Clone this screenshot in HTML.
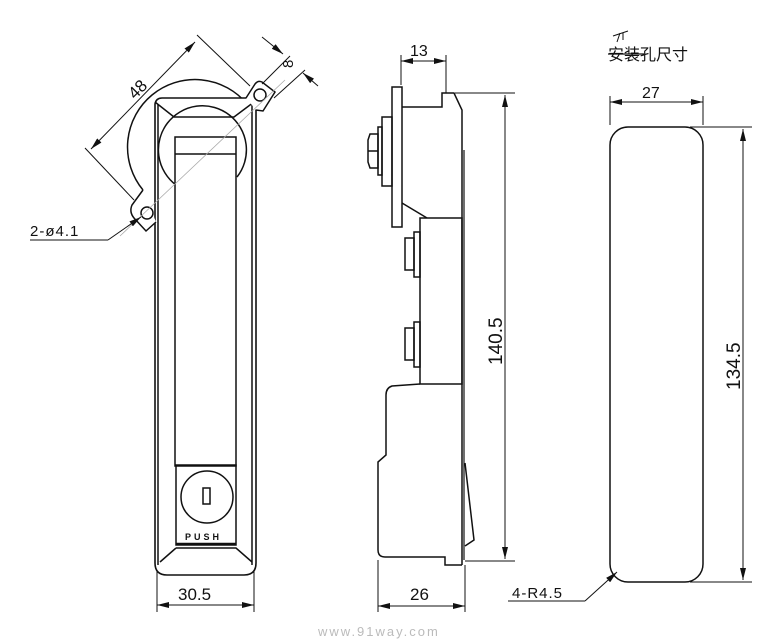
<!DOCTYPE html>
<html><head><meta charset="utf-8"><style>
html,body{margin:0;padding:0;background:#fff;}
svg{display:block;}
text{font-family:"Liberation Sans","Noto Sans CJK SC",sans-serif;fill:#111;}
</style></head><body>
<svg width="776" height="644" viewBox="0 0 776 644" xmlns="http://www.w3.org/2000/svg">
<defs>
<marker id="a" viewBox="0 0 12 6" refX="12" refY="3" markerWidth="12" markerHeight="6" orient="auto-start-reverse"><path d="M0,0 L12,3 L0,6 z" fill="#111"/></marker>
</defs>
<g fill="none" stroke="#111" stroke-width="1.5">
<!-- LEFT VIEW -->
<path d="M143,190 A65,65 0 0 1 247,104"/>
<path d="M155,104 Q156,98 162,98 L250,98 Q256,98 256,104 L256,563 Q256,575 244,575 L167,575 Q155,575 155,563 Z" fill="#fff" stroke-width="1.6"/>
<line x1="158" y1="104" x2="158" y2="565"/>
<line x1="252" y1="104" x2="252" y2="565"/>
<path d="M176,185 A44,44 0 1 1 237,177"/>
<path d="M155,102 L174,117 L234,117 L254,102"/>
<rect x="175" y="137" width="61" height="329" fill="#fff"/>
<line x1="175" y1="154" x2="236" y2="154"/>
<rect x="176" y="465" width="60" height="80"/>
<line x1="176" y1="544" x2="236" y2="544" stroke-width="2.5"/>
<path d="M176,548 L236,548 L252,562 M176,548 L160,562"/>
<circle cx="207" cy="497" r="26"/>
<rect x="203" y="488" width="7" height="16"/>
<!-- tabs -->
<path d="M143,190 L132,205 Q129,212 134,218 L146,231 L156,222" fill="#fff"/>
<circle cx="147" cy="213" r="6"/>
<path d="M246,98 L255,84 Q258,80 262,82 L275,92 L263,111 L256,110" fill="#fff"/>
<circle cx="260" cy="95" r="6"/>
<!-- MIDDLE VIEW -->
<rect x="392" y="87" width="10" height="140"/>
<path d="M402,107 L442,107 L442,93 L454,93 L462,110 L462,565"/>
<line x1="464" y1="150" x2="464" y2="560" stroke-width="1.2"/>
<path d="M402,203 L427,218"/>
<rect x="420" y="218" width="42" height="166"/>
<rect x="382" y="117" width="10" height="69"/>
<rect x="378" y="127" width="4" height="48"/>
<path d="M370,134 L378,134 L378,168 L370,168 L368,162 L368,140 Z"/>
<line x1="368" y1="151" x2="378" y2="151"/>
<rect x="414" y="232" width="6" height="45"/>
<path d="M405,238 L414,238 L414,270 L405,270 Z"/>
<rect x="414" y="322" width="6" height="45"/>
<path d="M405,328 L414,328 L414,360 L405,360 Z"/>
<path d="M420,384 L392,386 Q386,388 386,395 L386,455 L378,462 L378,550 Q378,557 385,557 L445,557 L445,565 L462,565"/>
<path d="M465,463 L474,540 L465,546"/>
<!-- RIGHT VIEW -->
<rect x="610" y="127" width="93" height="455" rx="18"/>
</g>
<g stroke="#111" stroke-width="1" fill="none">
<line x1="157" y1="570" x2="157" y2="612"/><line x1="254" y1="570" x2="254" y2="612"/>
<line x1="157" y1="605" x2="254" y2="605" marker-start="url(#a)" marker-end="url(#a)"/>
<line x1="378" y1="560" x2="378" y2="612"/><line x1="465" y1="565" x2="465" y2="612"/>
<line x1="378" y1="606" x2="465" y2="606" marker-start="url(#a)" marker-end="url(#a)"/>
<line x1="401" y1="85" x2="401" y2="55"/><line x1="446" y1="93" x2="446" y2="55"/>
<line x1="401" y1="61" x2="446" y2="61" marker-start="url(#a)" marker-end="url(#a)"/>
<line x1="455" y1="93" x2="515" y2="93"/><line x1="465" y1="561" x2="515" y2="561"/>
<line x1="505" y1="95" x2="505" y2="559" marker-start="url(#a)" marker-end="url(#a)"/>
<line x1="610" y1="125" x2="610" y2="96"/><line x1="703" y1="125" x2="703" y2="96"/>
<line x1="610" y1="102" x2="703" y2="102" marker-start="url(#a)" marker-end="url(#a)"/>
<line x1="690" y1="127" x2="752" y2="127"/><line x1="690" y1="582" x2="752" y2="582"/>
<line x1="743" y1="129" x2="743" y2="580" marker-start="url(#a)" marker-end="url(#a)"/>
<line x1="508" y1="601" x2="585" y2="601"/><line x1="585" y1="601" x2="617" y2="572" marker-end="url(#a)"/>
<line x1="134" y1="200" x2="85" y2="148"/><line x1="250" y1="86" x2="197" y2="35"/>
<line x1="91" y1="149" x2="195" y2="42" marker-start="url(#a)" marker-end="url(#a)"/>
<line x1="262" y1="84" x2="290" y2="56"/><line x1="274" y1="98" x2="305" y2="70"/>
<line x1="262" y1="37" x2="283" y2="54" marker-end="url(#a)"/>
<line x1="318" y1="86" x2="303" y2="73" marker-end="url(#a)"/>
<line x1="120" y1="236" x2="285" y2="80" stroke="#aaa" stroke-width="0.8"/>
<line x1="30" y1="240" x2="108" y2="240"/><line x1="108" y1="240" x2="141" y2="217" marker-end="url(#a)"/>
</g>
<g font-size="16">
<text x="178" y="600" font-size="17">30.5</text>
<text x="410" y="600" font-size="17">26</text>
<text x="410" y="56" font-size="16">13</text>
<text x="642" y="98" font-size="16">27</text>
<text x="30" y="236" font-size="15" letter-spacing="1">2-ø4.1</text>
<text x="512" y="598" font-size="15" letter-spacing="1">4-R4.5</text>
<text transform="translate(502,365) rotate(-90)" font-size="19">140.5</text>
<text transform="translate(740,390) rotate(-90)" font-size="19">134.5</text>
<text transform="translate(135,100) rotate(-45)" font-size="17">48</text>
<text transform="translate(293,68) rotate(-90)" font-size="15">8</text>
<text x="608" y="60" font-size="16">安装孔尺寸</text>
<text x="185" y="540" font-size="9" font-weight="bold" letter-spacing="3">PUSH</text>
<text x="318" y="636" font-size="13" style="fill:#bbb" letter-spacing="2">www.91way.com</text>
</g>
<line x1="608" y1="54" x2="644" y2="54" stroke="#111" stroke-width="1.3"/>
<path d="M613,36 L628,31 M620,33 L617,42 M623,33 L623,40" stroke="#111" stroke-width="1" fill="none"/>
</svg>
</body></html>
